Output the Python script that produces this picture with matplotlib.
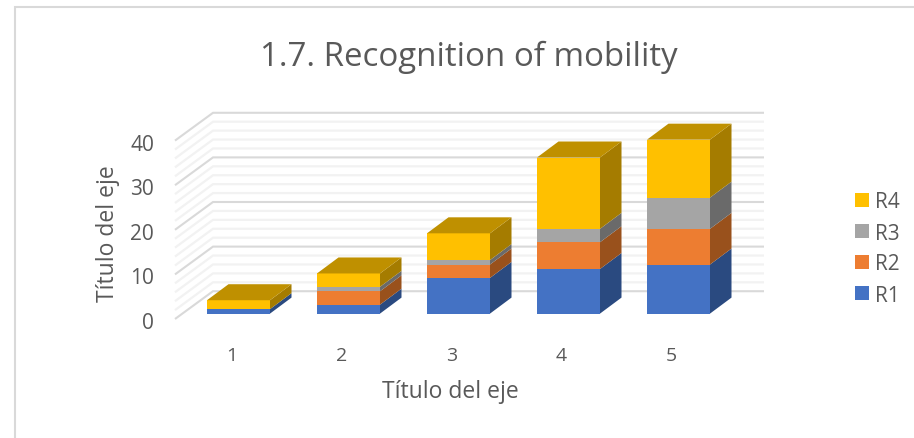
import matplotlib
matplotlib.use("Agg")
import matplotlib.pyplot as plt
from matplotlib.patches import Polygon, Patch

plt.rcParams["font.family"] = ["Open Sans", "DejaVu Sans"]

# Data
categories = [1, 2, 3, 4, 5]
r1 = [1, 2, 8, 10, 11]
r2 = [0, 3, 3, 6, 8]
r3 = [0, 1, 1, 3, 7]
r4 = [2, 3, 6, 16, 13]
series_names = ["R1", "R2", "R3", "R4"]
series_values = [r1, r2, r3, r4]
y_ticks = [0, 10, 20, 30, 40]

front_colors = ["#4472C4", "#ED7D31", "#A5A5A5", "#FFC000"]
side_colors = ["#2A4A80", "#99511C", "#6A6A6A", "#A57C00"]
top_color = "#BF9000"
text_color = "#595959"

# Pixel geometry of the fake 3D view
W, H = 914, 439
x0_px, x_step = 238.5, 110.0
y0_px, y_step = 314.6, 4.46

fig = plt.figure(figsize=(W / 100, H / 100), dpi=100)
ax = fig.add_axes([0, 0, 1, 1])
ax.set_xlim(1 - x0_px / x_step, 1 + (W - x0_px) / x_step)
ax.set_ylim((y0_px - H) / y_step, y0_px / y_step)
ax.axis("off")


def px_x(n):
    return n / x_step


def px_y(n):
    return n / y_step


half = px_x(31.5)
dx = px_x(21.5)
dy = px_y(16)

# Walls and gridlines
wall_left = 1 + (175 - x0_px) / x_step
wall_back = 1 + (213 - x0_px) / x_step
wall_right = 1 + (764 - x0_px) / x_step
front_off = px_y(-5.4)
back_off = px_y(22.4)
for v in range(40, -1, -2):
    major = v % 10 == 0
    color = "#D9D9D9" if major else "#F2F2F2"
    lw = 1.5 if major else 1.6
    ax.plot([wall_left, wall_back, wall_right],
            [v + front_off, v + back_off, v + back_off],
            color=color, lw=lw, zorder=2 if major else 1,
            solid_joinstyle="miter", solid_capstyle="butt")

# Bars
z = 3
for i, c in enumerate(categories):
    bottom = 0
    last = max(k for k in range(4) if series_values[k][i] > 0)
    for k in range(4):
        v = series_values[k][i]
        if v == 0:
            continue
        top = bottom + v
        ax.add_patch(Polygon([(c - half, bottom), (c + half, bottom), (c + half, top), (c - half, top)],
                             facecolor=front_colors[k], edgecolor="none", zorder=z))
        ax.add_patch(Polygon([(c + half, bottom), (c + half + dx, bottom + dy),
                              (c + half + dx, top + dy), (c + half, top)],
                             facecolor=side_colors[k], edgecolor="none", zorder=z))
        if k == last:
            ax.add_patch(Polygon([(c - half, top), (c + half, top),
                                  (c + half + dx, top + dy), (c - half + dx, top + dy)],
                                 facecolor=top_color, edgecolor="none", zorder=z))
        bottom = top
    z += 1

# Tick labels
for v in y_ticks:
    ax.text(1 + (154 - x0_px) / x_step, v + front_off + px_y(-1), str(v), ha="right", va="center_baseline",
            fontsize=15, color=text_color)
for c in categories:
    ax.text(c + px_x(-7), px_y(-39), str(c), ha="center", va="center_baseline",
            fontsize=14, color=text_color)

# Titles
fig.text(469 / W, 1 - 57 / H, "1.7. Recognition of mobility", ha="center", va="center",
         fontsize=23.8, color=text_color)
fig.text(450 / W, 1 - 392 / H, "Título del eje", ha="center", va="center",
         fontsize=16.5, color=text_color)
fig.text(108 / W, 1 - 234 / H, "Título del eje", ha="center", va="center",
         rotation=90, fontsize=16.5, color=text_color)

# Legend
handles = [Patch(facecolor=front_colors[k], label=series_names[k]) for k in range(3, -1, -1)]
fig.legend(handles=handles, loc="center left", bbox_to_anchor=(855 / W, 1 - 249.5 / H),
           frameon=False, fontsize=15, labelcolor=text_color, handlelength=0.67,
           handleheight=0.67, handletextpad=0.29, labelspacing=0.48, borderpad=0, borderaxespad=0)

# Chart border: only top and left are visible in the crop
fig.add_artist(plt.Line2D([15 / W, 15 / W, 913 / W], [0, 1 - 8 / H, 1 - 8 / H],
                          color="#D9D9D9", lw=1.5, solid_joinstyle="miter"))

fig.savefig("out.png", dpi=100)
